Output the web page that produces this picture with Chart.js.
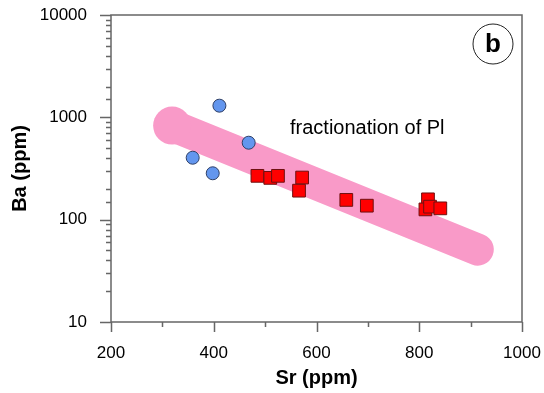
<!DOCTYPE html>
<html lang="en">
<head>
<meta charset="UTF-8">
<title>Ba vs Sr</title>
<script src="https://cdn.jsdelivr.net/npm/chart.js"></script>
<style>
  html, body { margin: 0; padding: 0; background: #fff; }
  #wrap { width: 544px; height: 393px; }
</style>
</head>
<body>
<div id="wrap"><canvas id="chart" width="544" height="393"></canvas></div>
<script>
// data
const blueSr = [359, 411, 398, 468];
const blueBa = [403, 1300, 284, 565];
const redSr = [485, 510, 525, 572, 566, 658, 698, 817, 812, 821, 841];
const redBa = [268, 256, 268, 258, 192, 156, 137, 158, 126, 134, 129];
const trendSr = [319, 914];
const trendBa = [830, 51];
const xLabels = [200, 400, 600, 800, 1000];
const yLabels = [10, 100, 1000, 10000];
const trendText = 'fractionation of Pl';
const panelText = 'b';

const FONT = '"Liberation Sans", Arial, Helvetica, sans-serif';
const AXIS = '#666';

const toPts = (xs, ys) => xs.map((x, i) => ({ x: x, y: ys[i] }));

// ticks, frame and the text labels
const decor = {
  id: 'decor',
  afterDraw(chart) {
    const { ctx, chartArea: a, scales } = chart;
    const xs = scales.x, ys = scales.y;
    ctx.save();
    ctx.strokeStyle = AXIS;
    ctx.lineWidth = 1.5;
    ctx.beginPath();
    ctx.moveTo(a.left, a.top); ctx.lineTo(a.right, a.top);
    ctx.lineTo(a.right, a.bottom); ctx.lineTo(a.left, a.bottom);
    ctx.closePath();
    ctx.stroke();

    ctx.beginPath();
    xs.ticks.forEach(t => {
      const px = Math.round(xs.getPixelForValue(t.value)) + 0.5;
      const len = xLabels.includes(t.value) ? 10 : 5;
      ctx.moveTo(px, a.bottom); ctx.lineTo(px, a.bottom + len);
    });
    ys.ticks.forEach(t => {
      const py = Math.round(ys.getPixelForValue(t.value)) + 0.5;
      const len = yLabels.includes(t.value) ? 11 : 5;
      ctx.moveTo(a.left, py); ctx.lineTo(a.left - len, py);
    });
    ctx.stroke();

    ctx.fillStyle = '#000';
    ctx.font = '20px ' + FONT;
    ctx.textBaseline = 'middle';
    ctx.textAlign = 'left';
    ctx.fillText(trendText, 290, 128);

    ctx.strokeStyle = '#222';
    ctx.lineWidth = 1;
    ctx.beginPath();
    ctx.arc(493, 44, 20, 0, Math.PI * 2);
    ctx.stroke();
    ctx.font = 'bold 26px ' + FONT;
    ctx.textAlign = 'center';
    ctx.fillText(panelText, 493, 45);
    ctx.restore();
  }
};

new Chart(document.getElementById('chart'), {
  type: 'scatter',
  data: {
    datasets: [
      {
        data: toPts(blueSr, blueBa),
        pointStyle: 'circle',
        pointRadius: 6.5,
        backgroundColor: '#6396ee',
        borderColor: '#2e3f66',
        borderWidth: 1,
        order: 1
      },
      {
        data: toPts(redSr, redBa),
        pointStyle: 'rect',
        pointRadius: 9,
        backgroundColor: '#ff0000',
        borderColor: '#6e1010',
        borderWidth: 1,
        order: 0
      },
      {
        type: 'line',
        data: toPts(trendSr, trendBa),
        borderColor: '#f99ac8',
        borderWidth: 32,
        borderCapStyle: 'round',
        pointRadius: [19, 0],
        pointBackgroundColor: '#f99ac8',
        pointBorderWidth: 0,
        showLine: true,
        fill: false,
        order: 5
      }
    ]
  },
  options: {
    responsive: false,
    animation: false,
    layout: { autoPadding: false, padding: { left: 0, right: 22, top: 15, bottom: 0 } },
    plugins: { legend: { display: false }, tooltip: { enabled: false } },
    scales: {
      x: {
        type: 'linear',
        min: 200,
        max: 1000,
        afterFit: s => { s.height = 71; s.paddingLeft = 0; s.paddingRight = 0; },
        grid: { display: false, drawTicks: false },
        border: { display: false },
        ticks: {
          stepSize: 100,
          autoSkip: false,
          maxRotation: 0,
          padding: 21,
          color: '#000',
          font: { family: FONT, size: 17 },
          callback: v => xLabels.includes(v) ? String(v) : ''
        },
        title: {
          display: true,
          text: 'Sr (ppm)',
          color: '#000',
          font: { family: FONT, size: 20, weight: 'bold' },
          padding: { top: 0, bottom: 3 }
        }
      },
      y: {
        type: 'logarithmic',
        min: 10,
        max: 10000,
        afterFit: s => { s.width = 111; s.paddingTop = 0; s.paddingBottom = 0; },
        grid: { display: false, drawTicks: false },
        border: { display: false },
        ticks: {
          autoSkip: false,
          padding: 24,
          color: '#000',
          font: { family: FONT, size: 17 },
          callback: v => yLabels.includes(v) ? String(v) : ''
        },
        title: {
          display: true,
          text: 'Ba (ppm)',
          color: '#000',
          font: { family: FONT, size: 20, weight: 'bold' },
          padding: { top: 8, bottom: 0 }
        }
      }
    }
  },
  plugins: [decor]
});
</script>
</body>
</html>
